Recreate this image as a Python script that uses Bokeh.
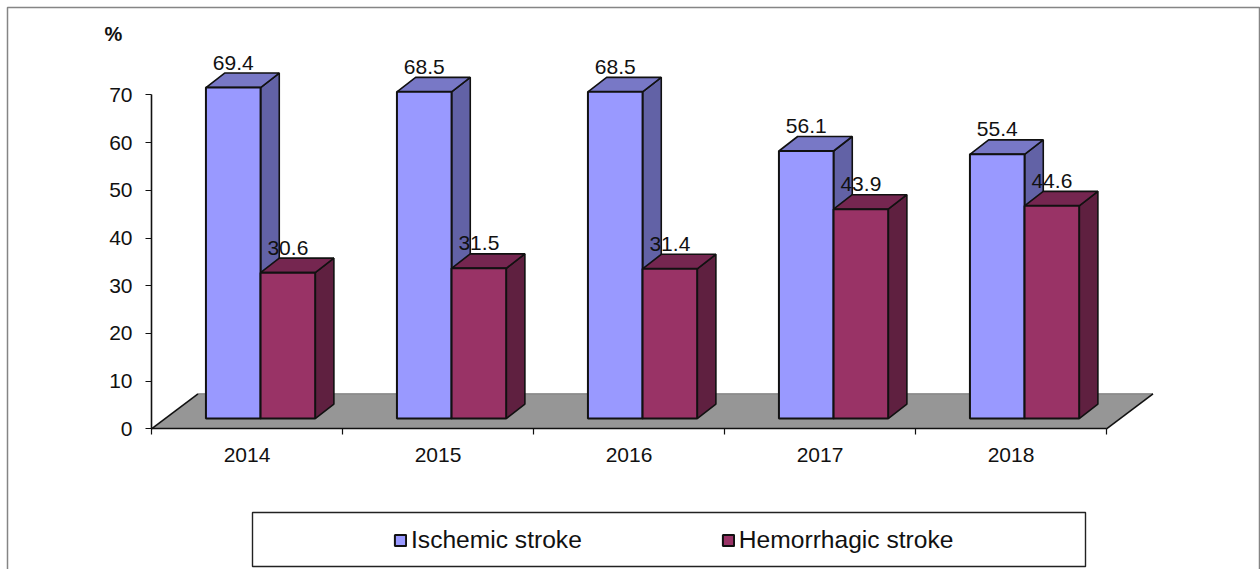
from bokeh.plotting import figure
from bokeh.models import (Range1d, FixedTicker, Label, BoxAnnotation, Legend, LegendItem)
from bokeh.core.properties import value
from bokeh.embed import file_html
from bokeh.resources import INLINE

years = ["2014", "2015", "2016", "2017", "2018"]
ischemic = [69.4, 68.5, 68.5, 56.1, 55.4]
hemorrhagic = [30.6, 31.5, 31.4, 43.9, 44.6]
y_ticks = [0, 10, 20, 30, 40, 50, 60, 70]

FONT = "Liberation Sans"
W, H = 1260, 569
X0, Y0 = 151, 428.3   # page pixel of the data origin
PX_X = 191.0      # pixels per category
PX_Y = 4.77       # pixels per percent

# 3-D projection, expressed in data units
BAR_START, BAR_W = 0.285, 0.286
BASE = 2.14
DX, DY = 18.7 / PX_X, 14.5 / PX_Y
FLOOR_DX, FLOOR_DY = 46.5 / PX_X, 35 / PX_Y


def sy(py):  # page pixel row to screen units of an annotation
    return H - py


p = figure(width=W, height=H, output_backend="svg", toolbar_location=None,
           x_range=Range1d(-X0 / PX_X, (W - X0) / PX_X),
           y_range=Range1d((Y0 - H) / PX_Y, Y0 / PX_Y),
           min_border=0, outline_line_color=None,
           background_fill_color="white", border_fill_color="white")
p.styles = {"position": "absolute", "left": "0px", "top": "0px"}
p.grid.visible = False

n = len(years)
# outer frame of the chart area
p.add_layout(BoxAnnotation(left=7, right=1259, top=sy(7), bottom=sy(H + 20),
                           left_units="screen", right_units="screen",
                           top_units="screen", bottom_units="screen",
                           fill_color="white", fill_alpha=0, line_color="#858585",
                           line_alpha=1, line_width=1.5, level="underlay"))

# floor
p.patch([0, n, n + FLOOR_DX, FLOOR_DX], [0, 0, FLOOR_DY, FLOOR_DY],
        fill_color="#969696", line_color=None)
p.line([FLOOR_DX, n + FLOOR_DX], [FLOOR_DY, FLOOR_DY], line_color="#777777", line_width=1)
p.line([0, FLOOR_DX], [0, FLOOR_DY], line_color="#111111", line_width=1.6)
p.line([n, n + FLOOR_DX], [0, FLOOR_DY], line_color="#111111", line_width=1.6)


def series(values, offset, front, top, side):
    lefts = [i + BAR_START + offset * BAR_W for i in range(n)]
    rights = [x + BAR_W for x in lefts]
    tops = [BASE + v for v in values]
    p.patches([[r, r + DX, r + DX, r] for r in rights],
              [[BASE, BASE + DY, t + DY, t] for t in tops],
              fill_color=side, line_color="#111111", line_width=1.6)
    p.patches([[l, l + DX, r + DX, r] for l, r in zip(lefts, rights)],
              [[t, t + DY, t + DY, t] for t in tops],
              fill_color=top, line_color="#111111", line_width=1.6)
    centers = [(l + r) / 2 for l, r in zip(lefts, rights)]
    bars = p.vbar(x=centers, width=BAR_W, bottom=BASE, top=tops, fill_color=front,
                  line_color="#111111", line_width=2)
    return bars, centers, tops


b1, x1, t1 = series(ischemic, 0, "#9999FF", "#7878C6", "#6262A6")
b2, x2, t2 = series(hemorrhagic, 1, "#993366", "#752650", "#5F2040")

for xs, ts, vals in ((x1, t1, ischemic), (x2, t2, hemorrhagic)):
    p.text(x=xs, y=ts, text=[f"{v:.1f}" for v in vals], text_align="center",
           text_baseline="middle", y_offset=-25, text_color="#111111",
           text_font=value(FONT), text_font_size="21px")

# axes
ya = p.yaxis[0]
ya.fixed_location = 0
ya.ticker = FixedTicker(ticks=y_ticks)
ya.bounds = (0, 70)
ya.major_tick_out, ya.major_tick_in, ya.minor_tick_out, ya.minor_tick_in = 6, 0, 0, 0
ya.major_label_standoff = 13
ya.axis_line_color = ya.major_tick_line_color = "#111111"
ya.axis_line_width = 1.6
ya.major_tick_line_width = 1.2
ya.major_label_text_font = FONT
ya.major_label_text_font_size = "21px"
ya.major_label_text_color = "#111111"

xa = p.xaxis[0]
xa.fixed_location = 0
xa.ticker = FixedTicker(ticks=[i + 0.5 for i in range(n)], minor_ticks=list(range(n + 1)))
xa.major_label_overrides = {i + 0.5: y for i, y in enumerate(years)}
xa.bounds = (0, n)
xa.major_tick_out, xa.major_tick_in = 0, 0
xa.minor_tick_out, xa.minor_tick_in = 6, 0
xa.major_label_standoff = 13
xa.axis_line_color = xa.minor_tick_line_color = "#111111"
xa.axis_line_width = 1.6
xa.minor_tick_line_width = 1.2
xa.major_label_text_font = FONT
xa.major_label_text_font_size = "21px"
xa.major_label_text_color = "#111111"

p.add_layout(Label(x=113, y=sy(33), x_units="screen", y_units="screen", text="%",
                   text_font=FONT, text_font_style="bold", text_font_size="20px",
                   text_align="center", text_baseline="middle", text_color="#111111"))

# legend
p.add_layout(BoxAnnotation(left=252, right=1085, top=sy(512), bottom=sy(566),
                           left_units="screen", right_units="screen",
                           top_units="screen", bottom_units="screen",
                           fill_color="white", fill_alpha=1, line_color="#222222",
                           line_alpha=1, line_width=1.4, level="annotation"))
legend = Legend(items=[LegendItem(label="Ischemic stroke", renderers=[b1]),
                       LegendItem(label="Hemorrhagic stroke", renderers=[b2])],
                orientation="horizontal", location=(393, 15),
                padding=0, margin=0, spacing=139, glyph_width=14, glyph_height=14,
                label_standoff=4, background_fill_alpha=0, border_line_color=None,
                label_text_font=FONT, label_text_font_size="24.6px", label_text_color="#111111",
                label_height=14, label_width=10)
p.add_layout(legend, "center")

open("out.html", "w").write(file_html(p, INLINE))
